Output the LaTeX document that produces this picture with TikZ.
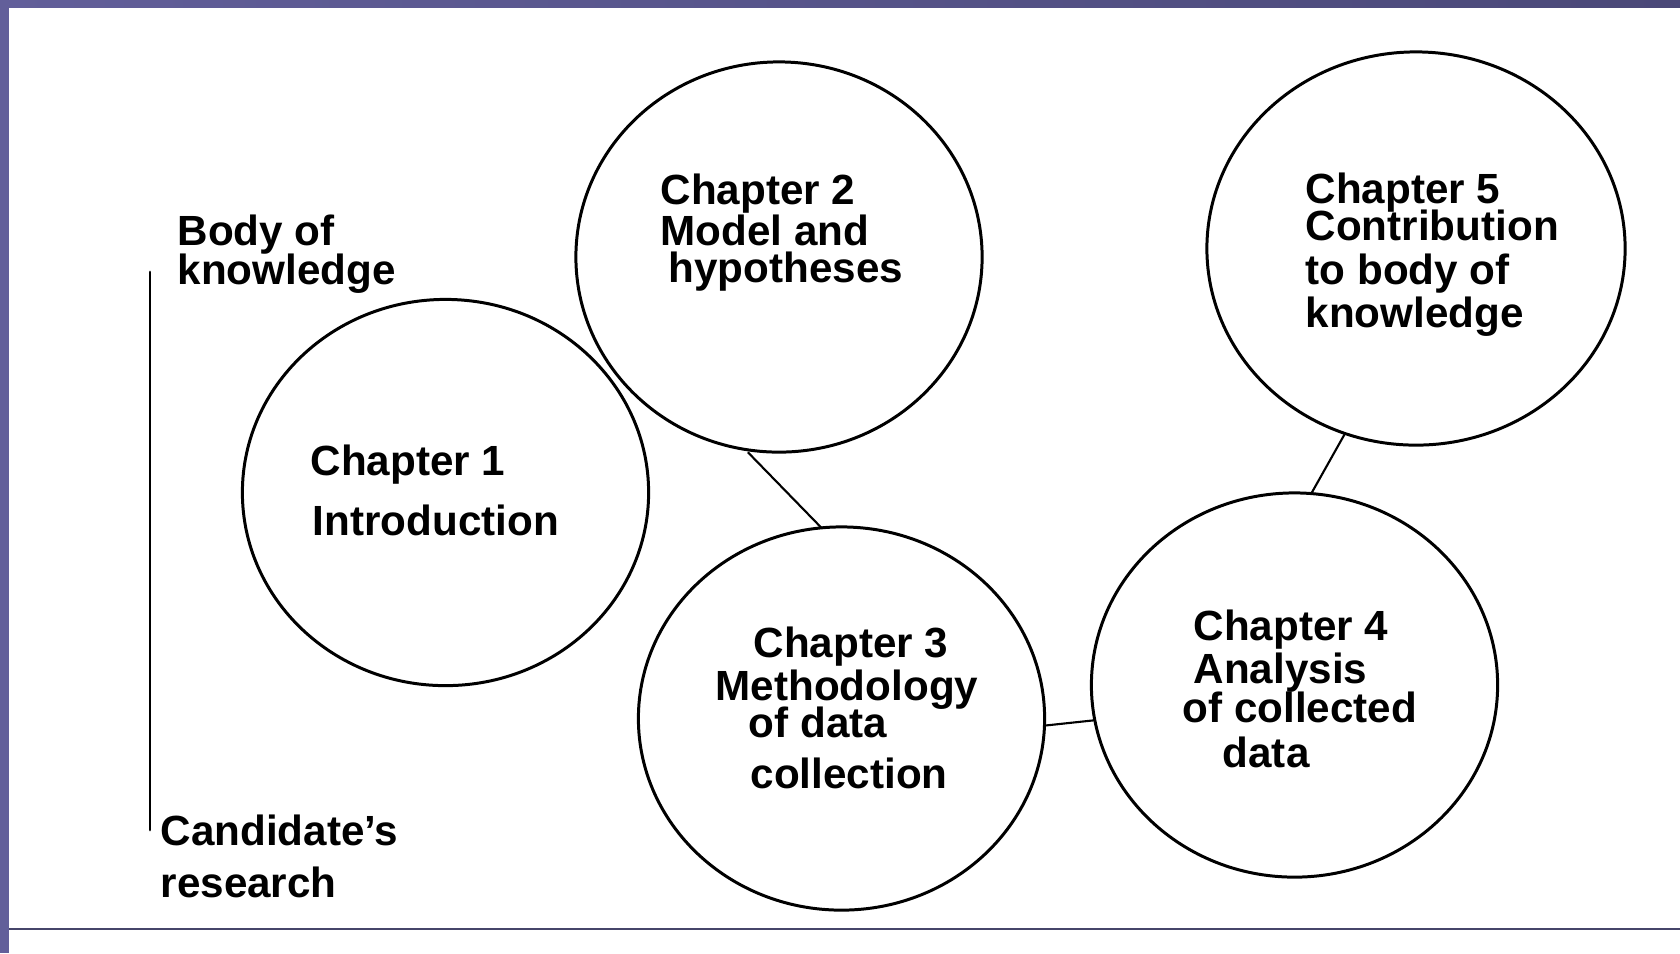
\documentclass[tikz,border=0pt]{standalone}
\usepackage{fontspec}
\setmainfont{Liberation Sans}
\usepackage{xcolor}
\usetikzlibrary{shapes.geometric}
\definecolor{frame}{HTML}{625F9A}
\definecolor{framedark}{HTML}{4A4878}
\definecolor{rule}{HTML}{46456A}
\definecolor{ink}{HTML}{000000}
\tikzset{
  chap/.style={ellipse, draw=ink, line width=0.85pt, minimum width=4.06cm, minimum height=3.86cm, inner sep=0pt, outer sep=0pt},
  link/.style={draw=ink, line width=0.6pt},
  axis/.style={draw=ink, line width=0.8pt, line cap=round},
  lab/.style={text=ink, font=\bfseries\fontsize{12}{14}\selectfont, anchor=base west, inner sep=0pt, text height=8.4pt, text depth=0pt},
}

\begin{document}
\begin{tikzpicture}[x=0.01cm,y=-0.01cm]
  \useasboundingbox (0,0) rectangle (1680,953);
  \fill[white] (0,0) rectangle (1680,953);
  % slide frame
  \shade[left color=frame, right color=framedark] (0,0) rectangle (1680,7);
  \fill[frame] (0,0) rectangle (9,953);
  \fill[rule] (9,928) rectangle (1680,930);

  % chapters
  \node[chap] (c1) at (445.5,492.5) {};
  \node[chap,minimum height=3.9cm] (c2) at (779,257) {};
  \node[chap,minimum height=3.83cm] (c3) at (841.5,718.5) {};
  \node[chap,minimum height=3.84cm] (c4) at (1294.5,685) {};
  \node[chap,minimum width=4.18cm,minimum height=3.93cm] (c5) at (1416,248.5) {};

  \draw[link,shorten <=0.4mm] (c2.260) -- (c3.96);
  \draw[link] (c3.-2) -- (c4.190);
  \draw[link] (c4.85) -- (c5.249);

  % chapter titles, one line each
  \foreach \px/\py/\txt [count=\i] in {
      310/475/Chapter 1, 312/535/Introduction,
      660/204/Chapter 2, 660/245/Model and, 668/282/hypotheses,
      753/657/Chapter 3, 715/700/Methodology, 748/737/of data, 750/788/collection,
      1193/640/Chapter 4, 1193/683/Analysis, 1182/722/of collected, 1222/767/data,
      1305/203/Chapter 5, 1305/240/Contribution, 1305/284/to body of, 1305/327/knowledge}
    \node[lab] (t\i) at (\px,\py) {\txt};

  % scale on the left
  \coordinate (top) at (150,272);
  \coordinate (bot) at (150,830);
  \draw[axis] (top) -- (bot);
  \node[lab] (bk1) at (177,245) {Body of};
  \node[lab] (bk2) at (177,284) {knowledge};
  \node[lab] (cr1) at (160,845) {Candidate's};
  \node[lab] (cr2) at (160,897) {research};
\end{tikzpicture}
\end{document}
